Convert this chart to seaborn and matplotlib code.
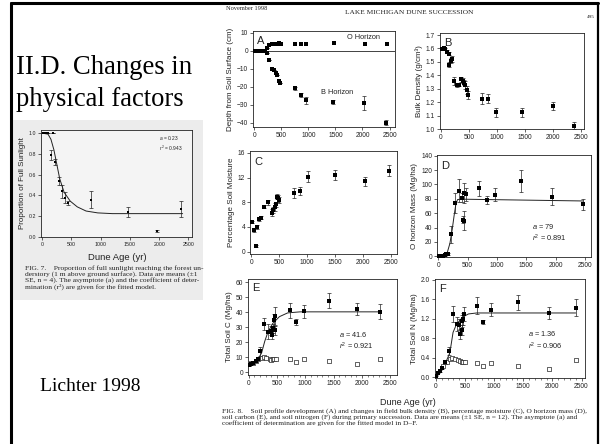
import numpy as np
import pandas as pd
import seaborn as sns
import matplotlib.pyplot as plt
from matplotlib.patches import Rectangle
from matplotlib.lines import Line2D

# Fig. 7 - sunlight
sun_age = [10, 40, 70, 95, 150, 180, 225, 290, 345, 390, 445, 835, 1460, 1970, 2370]
sun_val = [1.0, 1.0, 1.0, 1.0, 0.79, 1.0, 0.72, 0.54, 0.44, 0.38, 0.33, 0.36, 0.24, 0.06, 0.27]
sun_err = [0, 0, 0, 0, 0.05, 0, 0.03, 0.04, 0.06, 0.05, 0.02, 0.08, 0.05, 0.01, 0.08]
sun_fit_age = [0, 100, 150, 200, 250, 300, 375, 480, 600, 750, 950, 1200, 2400]
sun_fit_val = [1.0, 0.99, 0.94, 0.84, 0.70, 0.56, 0.43, 0.345, 0.29, 0.25, 0.232, 0.225, 0.225]

# A - soil profile
a_o_age = [280, 330, 370, 400, 430, 455, 480, 500, 760, 860, 955, 1470, 2040, 2450]
a_o_val = [3.3, 3.5, 3.6, 4.0, 3.5, 4.2, 3.6, 3.8, 3.9, 3.9, 3.9, 4.3, 3.7, 3.9]
a_b_age = [10, 60, 105, 150, 195, 230, 245, 280, 335, 370, 400, 430, 455, 480, 755, 860, 955, 1460, 2030, 2440]
a_b_val = [0, 0, 0, 0, 0, 1.5, -1.3, -5, -10, -11, -12.4, -13.7, -17, -18, -21, -24.8, -27.6, -28.5, -29, -40]
a_b_err = [0, 0, 0, 0, 0, 0, 0, 0, 0, 0, 0, 0, 0, 0, 1, 1, 2, 1, 4, 1.5]

# B - bulk density
b_age = [18, 60, 80, 110, 140, 150, 180, 200, 240, 290, 320, 360, 390, 410, 430, 460, 480, 740, 840, 980, 1460, 2000, 2390]
b_val = [1.595, 1.60, 1.595, 1.575, 1.56, 1.48, 1.51, 1.52, 1.355, 1.325, 1.33, 1.37, 1.36, 1.345, 1.325, 1.29, 1.25,
         1.225, 1.225, 1.125, 1.125, 1.17, 1.025]
b_err = [0.01, 0.01, 0.01, 0.01, 0.01, 0.02, 0.02, 0.02, 0.03, 0.01, 0.01, 0.02, 0.02, 0.02, 0.03, 0.03, 0.03,
         0.04, 0.035, 0.035, 0.035, 0.03, 0.025]

# C - soil moisture
c_age = [18, 50, 80, 110, 140, 170, 235, 295, 370, 385, 420, 435, 455, 480, 495, 770, 870, 1010, 1490, 2030, 2455]
c_val = [4.8, 3.5, 0.9, 4.0, 5.2, 5.5, 7.3, 8.0, 6.3, 6.7, 7.2, 7.7, 8.9, 8.6, 8.3, 9.5, 9.8, 12.1, 12.4, 11.4, 13.1]
c_err = [0.2, 0.3, 0.2, 0.3, 0.3, 0.3, 0.3, 0.4, 0.6, 0.5, 0.6, 0.4, 0.4, 0.5, 0.5, 0.8, 0.6, 0.9, 0.8, 0.7, 0.9]

# D - O horizon mass
d_age = [20, 50, 85, 115, 140, 170, 215, 285, 355, 400, 415, 445, 445, 475, 700, 830, 965, 1410, 1940, 2470]
d_val = [0.5, 0.8, 1.0, 1.5, 2.5, 3.0, 30.7, 74.7, 91, 81.8, 51, 49.6, 87.5, 86.6, 94.6, 78.5, 85.6, 104.5, 83, 72.4]
d_err = [0.3, 0.3, 0.5, 0.5, 1, 1, 12, 14, 16, 6, 5, 13, 14, 9, 10, 6, 9, 15, 12, 8]
d_fit_age = [0, 110, 150, 200, 240, 270, 300, 330, 400, 2470]
d_fit_val = [0.5, 1.2, 4, 18, 38, 56, 72, 79, 79.5, 77]

# E - soil C
e_age = [15, 45, 85, 125, 170, 200, 275, 345, 390, 420, 430, 445, 470, 475, 730, 830, 970, 1420, 1920, 2320]
e_val = [5.0, 5.5, 6.3, 7.3, 8.5, 13.8, 32, 27, 27.5, 24.8, 29.2, 34.7, 28, 37.6, 41.1, 33.2, 40.4, 47.5, 42, 40.2]
e_err = [0.3, 0.3, 0.4, 0.5, 0.5, 3, 4, 5, 3, 3, 3, 4, 3, 6, 5, 2, 4.5, 5, 4, 5]
e_open_age = [15, 45, 85, 125, 170, 230, 275, 315, 370, 400, 430, 455, 485, 730, 830, 970, 1420, 1920, 2320]
e_open_val = [5.5, 5.7, 6.2, 7.3, 8.4, 9.5, 10.1, 9.5, 8.8, 7.9, 8.4, 8.8, 8.8, 8.4, 6.6, 9.0, 7.3, 5.5, 8.8]
e_fit_age = [0, 100, 170, 230, 285, 345, 430, 545, 690, 910, 2320]
e_fit_val = [5.2, 6.5, 8.8, 12.7, 20.4, 27, 32.5, 36.9, 39.4, 40.1, 40.1]

# F - soil N
f_age = [10, 40, 70, 110, 155, 220, 295, 355, 400, 420, 440, 455, 465, 485, 705, 810, 950, 1410, 1950, 2400]
f_val = [0.03, 0.09, 0.12, 0.19, 0.3, 0.54, 1.3, 1.09, 1.08, 0.88, 1.16, 0.97, 1.19, 1.3, 1.47, 1.14, 1.39, 1.54, 1.32, 1.43]
f_err = [0.01, 0.01, 0.02, 0.02, 0.03, 0.08, 0.17, 0.15, 0.12, 0.1, 0.12, 0.1, 0.12, 0.15, 0.17, 0.04, 0.13, 0.15, 0.12, 0.17]
f_open_age = [125, 155, 195, 240, 285, 325, 380, 410, 440, 465, 495, 705, 810, 950, 1410, 1950, 2400]
f_open_val = [0.23, 0.3, 0.32, 0.38, 0.4, 0.38, 0.35, 0.33, 0.32, 0.31, 0.3, 0.28, 0.23, 0.28, 0.23, 0.17, 0.35]
f_fit_age = [0, 80, 155, 240, 295, 355, 465, 560, 700, 2400]
f_fit_val = [0.03, 0.12, 0.26, 0.5, 0.92, 1.09, 1.24, 1.3, 1.32, 1.32]

sns.set_style("ticks")
SANS = "Liberation Sans"
SERIF = "Liberation Serif"
plt.rcParams["font.family"] = SANS
plt.rcParams["mathtext.fontset"] = "custom"
plt.rcParams["mathtext.it"] = "Liberation Sans:italic"
plt.rcParams["mathtext.rm"] = "Liberation Sans"
INK = "#222222"

W, H = 600, 444
fig = plt.figure(figsize=(6, 4.44), dpi=100)
fig.patch.set_facecolor("white")


def px_axes(x0, y0, x1, y1):
    return fig.add_axes([x0 / W, 1 - y1 / H, (x1 - x0) / W, (y1 - y0) / H])


def fx(x):
    return x / W


def fy(y):
    return 1 - y / H


def style(ax, xlim, ylim, yticks, yfmt, ylabel, fs=4.8, lfs=5.8):
    ax.set_xlim(*xlim)
    ax.set_ylim(*ylim)
    ax.set_xticks([0, 500, 1000, 1500, 2000, 2500])
    ax.set_yticks(yticks)
    ax.set_yticklabels([yfmt.format(t) for t in yticks])
    ax.tick_params(labelsize=fs, length=2, width=0.5, pad=1.5, colors=INK)
    for s in ax.spines.values():
        s.set_linewidth(0.6)
        s.set_color(INK)
    ax.set_xlabel("")
    ax.set_ylabel(ylabel, fontsize=lfs, labelpad=2, color=INK)


def points(ax, x, y, err=None, s=5):
    if err is not None:
        ax.errorbar(x, y, yerr=err, fmt="none", ecolor=INK, elinewidth=0.5, capsize=1.4, capthick=0.5)
    sns.scatterplot(x=x, y=y, marker="s", s=s, color="black", linewidth=0, ax=ax, zorder=3)


def open_points(ax, x, y):
    sns.scatterplot(x=x, y=y, marker="s", s=7, facecolor="white", edgecolor=INK, linewidth=0.5, ax=ax, zorder=3)


def fit(ax, x, y):
    sns.lineplot(x=x, y=y, color=INK, linewidth=0.7, sort=False, estimator=None, ax=ax, zorder=2)


def fit_note(ax, x, y, lines, fs=5.3):
    ax.text(x, y, "\n".join(lines), transform=ax.transAxes, fontsize=fs, color=INK, ha="left", va="top",
            linespacing=1.2)


def letter(ax, s, y=0.86):
    ax.text(0.03, y, s, transform=ax.transAxes, fontsize=8, color=INK)


# background of the left (Fig. 7) clipping
fig.patches.append(Rectangle((fx(13), fy(300)), (203 - 13) / W, (300 - 120) / H,
                             transform=fig.transFigure, facecolor="#ececec", edgecolor="none", zorder=-10))

# Fig 7 panel
ax0 = px_axes(41, 130, 192, 237)
ax0.set_facecolor("#f4f4f4")
fit(ax0, sun_fit_age, sun_fit_val)
points(ax0, sun_age, sun_val, sun_err, s=4)
style(ax0, (-20, 2560), (0, 1.03), [0, 0.2, 0.4, 0.6, 0.8, 1.0], "{:.1f}", "Proportion of Full Sunlight",
      fs=3.8, lfs=5.8)
fit_note(ax0, 0.78, 0.96, ["$a$ = 0.23", "$r^2$ = 0.943"], fs=3.5)
fig.text(fx(117), fy(257), "Dune Age (yr)", ha="center", va="center", fontsize=6.8, color=INK)
cap7 = ("FIG. 7.    Proportion of full sunlight reaching the forest un-\n"
        "derstory (1 m above ground surface). Data are means (\u00b11\n"
        "SE, n = 4). The asymptote (a) and the coefficient of deter-\n"
        "mination (r\u00b2) are given for the fitted model.")
fig.text(fx(25), fy(265), cap7, ha="left", va="top", fontsize=5.4, family=SERIF, color=INK, linespacing=1.05)

# A
axA = px_axes(253, 31, 395, 127)
axA.axhline(0, color=INK, linewidth=0.6)
points(axA, a_b_age, a_b_val, a_b_err)
points(axA, a_o_age, a_o_val)
style(axA, (-20, 2600), (-42.5, 11), [-40, -30, -20, -10, 0, 10], "{:d}", "Depth from Soil Surface (cm)")
axA.set_yticklabels(["\u221240", "\u221230", "\u221220", "\u221210", "0", "10"])
letter(axA, "A")
axA.text(2320, 7.5, "O Horizon", ha="right", va="center", fontsize=5.3, color=INK)
axA.text(1830, -23, "B Horizon", ha="right", va="center", fontsize=5.3, color=INK)

# B
axB = px_axes(440, 33, 584, 129)
points(axB, b_age, b_val, b_err)
style(axB, (-15, 2560), (1.0, 1.715), [1.0, 1.1, 1.2, 1.3, 1.4, 1.5, 1.6, 1.7], "{:.1f}", "Bulk Density (g/cm\u00b3)")
letter(axB, "B")

# C
axC = px_axes(250, 151, 397, 254)
points(axC, c_age, c_val, c_err)
style(axC, (-20, 2600), (-0.4, 16.3), [0, 4, 8, 12, 16], "{:d}", "Percentage Soil Moisture")
letter(axC, "C")

# D
axD = px_axes(437, 155, 591, 257)
fit(axD, d_fit_age, d_fit_val)
points(axD, d_age, d_val, d_err)
style(axD, (-20, 2600), (-1, 141), [0, 20, 40, 60, 80, 100, 120, 140], "{:d}", "O horizon Mass (Mg/ha)")
letter(axD, "D")
fit_note(axD, 0.62, 0.34, ["$a$ = 79", "$r^2$ = 0.891"])

# E
axE = px_axes(248, 279, 397, 375)
fit(axE, e_fit_age, e_fit_val)
open_points(axE, e_open_age, e_open_val)
points(axE, e_age, e_val, e_err)
style(axE, (-10, 2620), (-2, 62), [0, 10, 20, 30, 40, 50, 60], "{:d}", "Total Soil C (Mg/ha)")
letter(axE, "E", 0.87)
fit_note(axE, 0.61, 0.47, ["$a$ = 41.6", "$r^2$ = 0.921"])

# F
axF = px_axes(435, 279, 585, 378)
fit(axF, f_fit_age, f_fit_val)
open_points(axF, f_open_age, f_open_val)
points(axF, f_age, f_val, f_err)
style(axF, (-15, 2560), (-0.02, 2.02), [0.0, 0.4, 0.8, 1.2, 1.6, 2.0], "{:.1f}", "Total Soil N (Mg/ha)")
letter(axF, "F", 0.87)
fit_note(axF, 0.62, 0.49, ["$a$ = 1.36", "$r^2$ = 0.906"])

for ax in (axE, axF):
    ax.set_xticks(np.arange(0, 2600, 100), minor=True)
    ax.tick_params(which="minor", length=1.2, width=0.4)

fig.text(fx(408), fy(402), "Dune Age (yr)", ha="center", va="center", fontsize=6.5, color=INK)

# page header and caption of the scanned figure
fig.text(fx(226), fy(9), "November 1998", ha="left", va="center", fontsize=4.6, family=SERIF, color=INK)
fig.text(fx(409), fy(13), "LAKE MICHIGAN DUNE SUCCESSION", ha="center", va="center", fontsize=5.3,
         family=SERIF, color=INK)
fig.text(fx(591), fy(17), "495", ha="center", va="center", fontsize=3.8, family=SERIF, color=INK)
cap8 = ("FIG. 8.    Soil profile development (A) and changes in field bulk density (B), percentage moisture (C), "
        "O horizon mass (D),\n"
        "soil carbon (E), and soil nitrogen (F) during primary succession. Data are means (\u00b11 SE, n = 12). "
        "The asymptote (a) and\n"
        "coefficient of determination are given for the fitted model in D\u2013F.")
fig.text(fx(222), fy(408), cap8, ha="left", va="top", fontsize=5.35, family=SERIF, color=INK, linespacing=1.05)

# slide text
fig.text(fx(16), fy(67), "II.D. Changes in", ha="left", va="center", fontsize=19.2, family=SERIF, color="black")
fig.text(fx(16), fy(100), "physical factors", ha="left", va="center", fontsize=19.2, family=SERIF, color="black")
fig.text(fx(40), fy(386), "Lichter 1998", ha="left", va="center", fontsize=14, family=SERIF, color="black")

# slide frame
fig.add_artist(Line2D([fx(10.5), fx(10.5)], [0, fy(3)], color="black", linewidth=2.2, transform=fig.transFigure))
fig.add_artist(Line2D([fx(10.5), fx(598)], [fy(3.5), fy(3.5)], color="black", linewidth=2.2,
                      transform=fig.transFigure))
fig.add_artist(Line2D([fx(598), fx(598)], [0, fy(3)], color="black", linewidth=1.6, transform=fig.transFigure))

fig.savefig("out.png", dpi=100)
